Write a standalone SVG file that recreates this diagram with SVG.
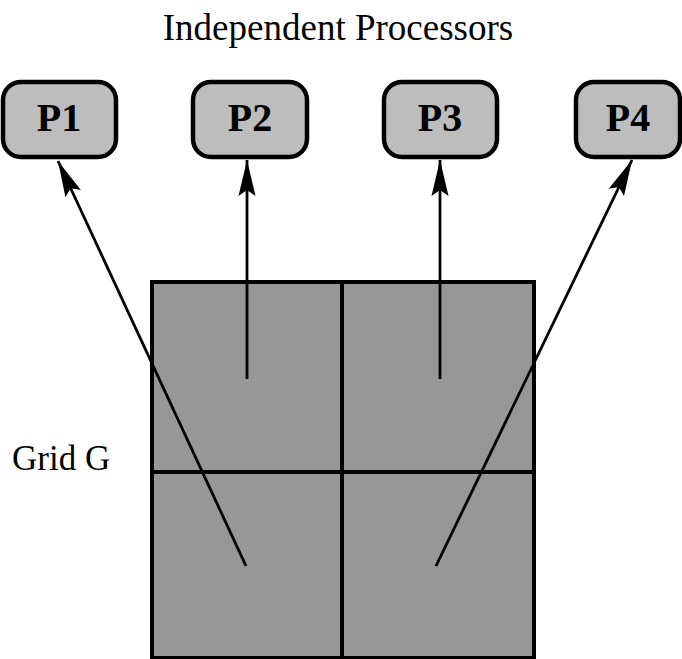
<svg xmlns="http://www.w3.org/2000/svg" width="682" height="659" viewBox="0 0 682 659">
<style>
.box{fill:#bdbdbd;stroke:#000;stroke-width:4.5}
.plabel{font-family:"Liberation Serif",serif;font-weight:bold;font-size:40px;text-anchor:middle}
.label{font-family:"Liberation Serif",serif;fill:#000}
.cell{fill:#979797;stroke:none}
.gridline{stroke:#000;stroke-width:4;fill:none}
.conn{stroke:#000;stroke-width:2.8;fill:none;marker-end:url(#ah)}
</style>
<defs>
<marker id="ah" markerUnits="userSpaceOnUse" markerWidth="38" markerHeight="24" viewBox="0 -12 38 24" refX="36" refY="0" orient="auto">
<path d="M36,0 L0,-8.5 L6,0 L0,8.5 Z" fill="#000"/>
</marker>
</defs>
<text class="label" x="338" y="40" font-size="37" text-anchor="middle">Independent Processors</text>
<g id="P1"><rect class="box" x="3" y="82" width="113" height="75" rx="18"/><text class="plabel" x="59" y="131">P1</text></g>
<g id="P2"><rect class="box" x="193" y="82" width="114" height="75" rx="18"/><text class="plabel" x="250" y="131">P2</text></g>
<g id="P3"><rect class="box" x="384" y="82" width="113" height="75" rx="18"/><text class="plabel" x="440" y="131">P3</text></g>
<g id="P4"><rect class="box" x="576" y="82" width="104" height="75" rx="18"/><text class="plabel" x="628" y="131">P4</text></g>
<g id="grid">
<rect class="cell" x="152" y="282" width="382" height="376"/>
<rect class="gridline" x="152" y="282" width="382" height="376"/>
<line class="gridline" x1="342" y1="282" x2="342" y2="659"/>
<line class="gridline" x1="152" y1="472" x2="534" y2="472"/>
</g>
<text class="label" x="12" y="470" font-size="35">Grid G</text>
<g id="connectors">
<line class="conn" x1="246" y1="566" x2="58" y2="161"/>
<line class="conn" x1="247" y1="379" x2="247" y2="160"/>
<line class="conn" x1="440" y1="379" x2="440" y2="160"/>
<line class="conn" x1="436" y1="566" x2="632" y2="160"/>
</g>
</svg>
